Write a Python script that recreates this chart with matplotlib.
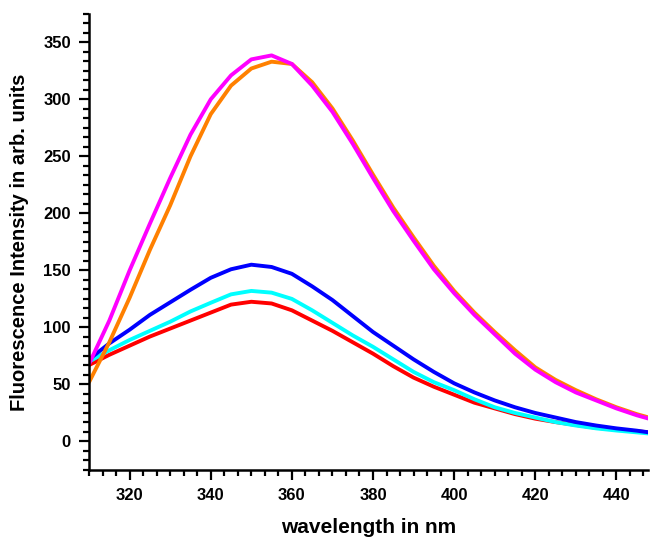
import matplotlib
matplotlib.use("Agg")
import matplotlib.pyplot as plt
from matplotlib.ticker import MultipleLocator

# wavelength grid (nm) and curves
wl = [310, 315, 320, 325, 330, 335, 340, 345, 350, 355, 360, 365, 370, 375,
      380, 385, 390, 395, 400, 405, 410, 415, 420, 425, 430, 435, 440, 445, 448]

magenta = [68, 106, 150, 191, 231, 269, 300, 321, 335, 338.5, 331, 312, 289, 261,
           231, 202, 176, 151, 130, 111, 94, 77, 63, 52, 43, 36, 29, 23, 20]
orange = [52, 87, 126, 168, 207, 250, 287, 312, 327, 333, 331, 315, 292, 264,
          234, 205, 179, 154, 132, 113, 96, 80, 65, 54, 45, 37, 30, 24, 21]
blue = [72, 86, 98, 111, 122, 133, 143.5, 151, 155, 153, 147, 136, 124, 110,
        96, 84, 72, 61, 51, 43, 36, 30, 25, 21, 17, 14, 11.5, 9.5, 8]
cyan = [70, 80, 89, 97, 105, 114, 121.6, 129, 132, 130.5, 125, 115, 104, 93,
        83, 72, 61, 52, 45, 37, 30, 25, 21, 17, 14, 11.5, 9.6, 8, 7]
red = [67, 76, 84, 92, 99, 106, 113, 120, 122.5, 121, 115, 106, 97, 87,
       77, 66, 56, 48, 41, 34, 29, 24, 20, 17, 14.5, 12, 10.5, 9, 8]

series = [(red, "#ff0000"), (cyan, "#00ffff"), (blue, "#0000ff"),
          (orange, "#ff8000"), (magenta, "#ff00ff")]

plt.rcParams['font.family'] = ['Liberation Sans', 'DejaVu Sans']

fig = plt.figure(figsize=(6.5, 5.38), dpi=100)
ax = fig.add_axes([0.137, 0.1264, 0.86, 0.848])

for ys, c in series:
    ax.plot(wl, ys, color=c, lw=2.8, solid_capstyle='round', solid_joinstyle='round')

ax.set_xlim(310, 447.8)
ax.set_ylim(-25, 375)
ax.xaxis.set_minor_locator(MultipleLocator(20 / 6))
ax.yaxis.set_minor_locator(MultipleLocator(50 / 6))
ax.set_xticks(range(320, 441, 20))
ax.set_yticks(range(0, 351, 50))

for s in ['top', 'right']:
    ax.spines[s].set_visible(False)
for s in ['left', 'bottom']:
    ax.spines[s].set_linewidth(1.8)

ax.tick_params(which='major', direction='out', length=7, width=1.6, pad=6)
ax.tick_params(which='minor', direction='out', length=4, width=1.6)
for lab in ax.get_xticklabels() + ax.get_yticklabels():
    lab.set_fontsize(12)
    lab.set_fontweight('bold')

ax.set_ylabel("Fluorescence Intensity in arb. units", fontsize=14.5,
              fontweight='bold', labelpad=10)
ax.set_xlabel("wavelength in nm", fontsize=15, fontweight='bold',
              family=['Liberation Sans Narrow', 'Liberation Sans'], labelpad=11)

fig.savefig("out.png", dpi=100)
